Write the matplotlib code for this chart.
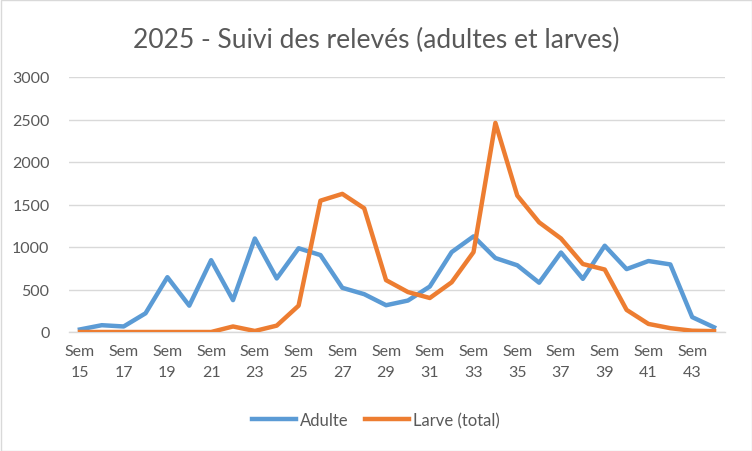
import matplotlib
matplotlib.use("Agg")
import matplotlib.pyplot as plt
from matplotlib.patches import Rectangle

weeks = list(range(15, 45))
adulte = [30, 80, 65, 220, 645, 310, 845, 375, 1100, 630, 985, 905, 520, 445, 315,
          370, 535, 940, 1125, 870, 785, 580, 935, 625, 1015, 740, 835, 795, 175, 55]
larve = [0, 0, 0, 0, 0, 0, 0, 65, 12, 75, 310, 1545, 1625, 1455, 610,
         470, 400, 585, 940, 2460, 1605, 1290, 1100, 800, 735, 260, 95, 45, 15, 10]
yticks = [0, 500, 1000, 1500, 2000, 2500, 3000]
title = "2025 - Suivi des relevés (adultes et larves)"

plt.rcParams['font.family'] = ['Lato', 'DejaVu Sans']
txt = '#595959'

fig = plt.figure(figsize=(7.52, 4.52), dpi=100)
fig.patches.append(Rectangle((0.5/752, 0.5/452), 1 - 1/752, 1 - 1/452, transform=fig.transFigure,
                             fill=False, edgecolor='#D9D9D9', linewidth=1))
ax = fig.add_axes([69/752, 1 - 333/452, (725 - 69)/752, (333 - 78)/452])

x = list(range(len(weeks)))
ax.plot(x, adulte, color='#5B9BD5', linewidth=3.2, label='Adulte', solid_joinstyle='round', zorder=3)
ax.plot(x, larve, color='#ED7D31', linewidth=3.2, label='Larve (total)', solid_joinstyle='round', zorder=3)

ax.set_xlim(-0.5, len(weeks) - 0.5)
ax.set_ylim(0, 3000)
ax.set_yticks(yticks)
ax.set_yticklabels([str(v) for v in yticks])
ax.grid(axis='y', color='#D9D9D9', linewidth=1)
ax.set_axisbelow(True)
for s in ['top', 'right', 'left']:
    ax.spines[s].set_visible(False)
ax.spines['bottom'].set_color('#D9D9D9')
ax.spines['bottom'].set_linewidth(1)

ax.set_xticks(x[::2])
ax.set_xticklabels([f"Sem\n{w}" for w in weeks[::2]], linespacing=1.6)
ax.tick_params(axis='both', length=0, labelsize=11.5, colors=txt)
ax.tick_params(axis='y', pad=14)
ax.tick_params(axis='x', pad=9)

fig.text(0.5, 1 - 40/452, title, ha='center', va='center', fontsize=19, color=txt)

leg = fig.legend(loc='center', bbox_to_anchor=(0.5, 1 - 421/452), ncol=2, frameon=False,
                 fontsize=12, handlelength=2.6, columnspacing=1.0, handletextpad=0.25)
for t in leg.get_texts():
    t.set_color(txt)

fig.savefig('out.png', dpi=100)
